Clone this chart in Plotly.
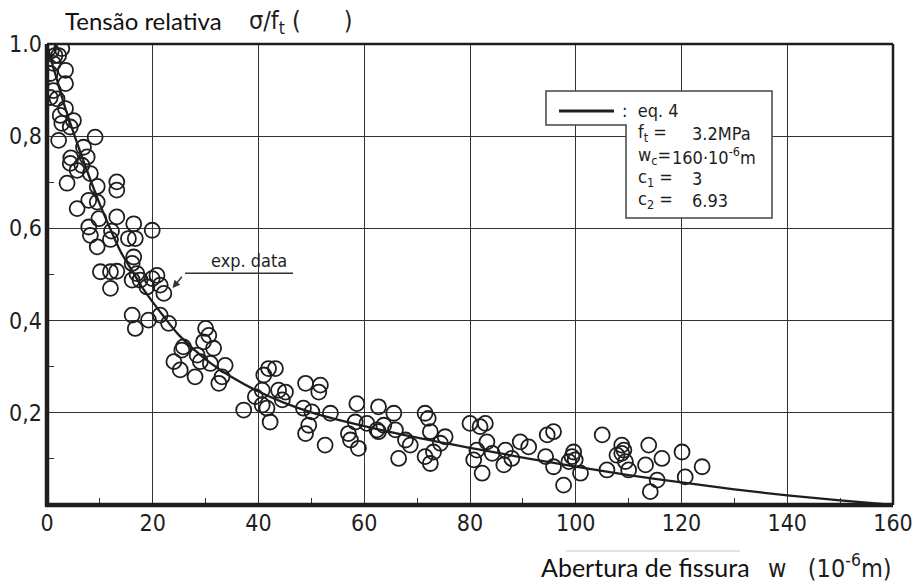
import plotly.graph_objects as go

# ---- data ----
w_exp = [0.3, 0.8, 1.5, 2.8, 2.2, 1.2, 3.5, 0.6, 3.5, 1.2, 0.6, 1.9, 3.5, 2.5, 5.0, 2.8, 4.4, 2.2, 9.1, 6.9,
         4.5, 4.4, 6.6, 7.6, 3.8, 5.7, 8.2, 9.5, 13.2, 13.2, 7.9, 5.7, 9.5, 9.8, 13.2, 7.9, 8.2, 12.2, 12.0, 16.4,
         15.4, 16.7, 19.9, 9.5, 16.4, 16.1, 10.1, 12.0, 13.2, 12.0, 16.1, 17.6, 19.9, 20.8, 18.9, 21.4, 22.1, 17.0,
         16.1, 16.7, 19.2, 21.4, 23.0, 30.0, 30.6, 29.6, 31.5, 24.0, 25.5, 25.2, 28.0, 29.0, 30.9, 33.7, 32.5, 33.1,
         25.8, 28.4,
         37.2, 39.4, 41.0, 41.9, 43.2, 40.7, 41.6, 42.2, 43.8, 45.1, 44.5, 48.9, 48.5, 50.1, 49.5, 48.9, 51.7, 51.4,
         53.6, 52.6, 58.6, 58.3, 57.0, 57.4, 58.9, 60.5, 62.7, 62.7, 63.7, 65.6, 65.9, 66.5, 67.8, 68.7, 71.5, 72.1,
         72.5, 71.5, 72.5, 73.1, 74.4, 75.3, 40.7, 62.4,
         80.0, 81.9, 82.9, 83.2, 80.7, 81.3, 82.3, 84.2, 86.4, 86.7, 87.9, 89.5, 91.1, 94.6, 95.8, 94.3, 95.8, 97.7,
         98.7, 99.3, 99.6, 99.9, 100.9, 105.0, 105.9, 107.8, 108.7, 109.1, 108.7, 109.4, 110.0, 113.2, 113.8, 114.1,
         115.4, 116.3, 120.1, 120.7, 123.9]
s_exp = [0.99, 0.985, 0.975, 0.99, 0.975, 0.958, 0.943, 0.936, 0.914, 0.899, 0.884, 0.881, 0.860, 0.845, 0.834, 0.828, 0.820, 0.791, 0.798, 0.776,
         0.753, 0.741, 0.737, 0.755, 0.698, 0.726, 0.719, 0.691, 0.701, 0.683, 0.661, 0.643, 0.657, 0.621, 0.625, 0.603, 0.585, 0.594, 0.576, 0.610,
         0.578, 0.578, 0.596, 0.560, 0.538, 0.524, 0.506, 0.506, 0.507, 0.470, 0.488, 0.488, 0.491, 0.498, 0.473, 0.477, 0.459, 0.502,
         0.412, 0.383, 0.401, 0.412, 0.394, 0.383, 0.368, 0.354, 0.340, 0.311, 0.336, 0.293, 0.278, 0.311, 0.307, 0.303, 0.264, 0.278,
         0.343, 0.325,
         0.206, 0.235, 0.282, 0.296, 0.296, 0.217, 0.210, 0.180, 0.249, 0.245, 0.228, 0.264, 0.210, 0.202, 0.173, 0.155, 0.260, 0.245,
         0.199, 0.130, 0.220, 0.180, 0.155, 0.141, 0.123, 0.177, 0.213, 0.159, 0.173, 0.199, 0.163, 0.101, 0.141, 0.130, 0.199, 0.188,
         0.159, 0.105, 0.090, 0.115, 0.134, 0.148, 0.249, 0.163,
         0.177, 0.170, 0.177, 0.137, 0.098, 0.119, 0.069, 0.112, 0.087, 0.119, 0.101, 0.137, 0.126, 0.152, 0.159, 0.105, 0.083, 0.043,
         0.094, 0.105, 0.115, 0.098, 0.069, 0.152, 0.076, 0.108, 0.130, 0.119, 0.112, 0.094, 0.076, 0.087, 0.130, 0.029,
         0.054, 0.101, 0.115, 0.061, 0.083]

w_curve = [0, 1, 2, 3, 4, 6, 8, 10, 12, 14, 16, 18, 20, 22, 25, 30, 35, 40, 45, 50, 60, 70, 80, 90, 100, 110, 120, 130, 140, 150, 160]
s_curve = [1.0, 0.957, 0.918, 0.878, 0.842, 0.775, 0.712, 0.652, 0.598, 0.548, 0.510, 0.472, 0.440, 0.410, 0.368, 0.316, 0.277, 0.246, 0.221, 0.201,
           0.171, 0.146, 0.124, 0.103, 0.083, 0.065, 0.049, 0.034, 0.021, 0.010, 0.0]

x_ticks = [0, 20, 40, 60, 80, 100, 120, 140, 160]
x_ticktext = ["0", "20", "40", "60", "80", "100", "120", "140", "160"]
y_ticks = [0.2, 0.4, 0.6, 0.8, 1.0]
y_ticktext = ["0,2", "0,4", "0,6", "0,8", "1.0"]

DIN = "Liberation Sans Narrow, DejaVu Sans Condensed, Arial Narrow, sans-serif"
HUM = "Lato, Noto Sans, sans-serif"
INK = "#1e1e1e"

fig = go.Figure()
fig.add_trace(go.Scatter(x=w_exp, y=s_exp, mode="markers",
                         marker=dict(symbol="circle-open", size=15, color=INK, line=dict(width=1.8, color=INK)),
                         showlegend=False, hoverinfo="skip"))
fig.add_trace(go.Scatter(x=w_curve, y=s_curve, mode="lines",
                         line=dict(color=INK, width=2.3, shape="spline", smoothing=0.8),
                         showlegend=False, hoverinfo="skip"))

W, H = 917, 582
L, R, T, B = 47, 893, 44, 505
def px(xp):
    return (xp - L) / (R - L)
def py(yp):
    return (B - yp) / (B - T)

shapes = []
# frame
shapes.append(dict(type="line", xref="paper", yref="paper", x0=0, x1=0, y0=-0.004, y1=1.0, line=dict(color=INK, width=4.5)))
shapes.append(dict(type="line", xref="paper", yref="paper", x0=-0.002, x1=1.0, y0=0, y1=0, line=dict(color=INK, width=4.5)))
shapes.append(dict(type="line", xref="paper", yref="paper", x0=0, x1=1.0, y0=1, y1=1, line=dict(color=INK, width=2.5)))
shapes.append(dict(type="line", xref="paper", yref="paper", x0=1, x1=1, y0=0, y1=1.0, line=dict(color=INK, width=2.5)))
# legend box (L-shaped)
pts = [(546, 91), (772, 91), (772, 218), (626, 218), (626, 125), (546, 125)]
path = "M " + " L ".join(f"{px(a):.4f},{py(b):.4f}" for a, b in pts) + " Z"
shapes.append(dict(type="path", xref="paper", yref="paper", path=path,
                   fillcolor="white", line=dict(color="#444", width=1.5), layer="above"))
# legend line sample
shapes.append(dict(type="line", xref="paper", yref="paper", x0=px(559), x1=px(614), y0=py(111), y1=py(111),
                   line=dict(color=INK, width=3.2), layer="above"))
# exp. data underline + leader
shapes.append(dict(type="line", xref="paper", yref="paper", x0=px(185), x1=px(293), y0=py(273.3), y1=py(273.3),
                   line=dict(color="#333", width=1.5), layer="above"))
# faint line above axis title
shapes.append(dict(type="line", xref="paper", yref="paper", x0=px(566), x1=px(740), y0=py(551), y1=py(551),
                   line=dict(color="#c8c8c8", width=1.2)))

ann = []
ann.append(dict(text="Tensão relativa", x=px(63), y=py(20), xref="paper", yref="paper", xanchor="left", yanchor="middle",
                showarrow=False, font=dict(family=HUM, size=24, color="#111")))
ann.append(dict(text="σ/f<sub>t</sub> (\u00a0\u00a0\u00a0\u00a0\u00a0\u00a0)", x=px(247), y=py(22), xref="paper", yref="paper",
                xanchor="left", yanchor="middle", showarrow=False, font=dict(family=DIN, size=25, color=INK)))
ann.append(dict(text="Abertura de fissura", x=px(539), y=py(567), xref="paper", yref="paper", xanchor="left",
                yanchor="middle", showarrow=False, font=dict(family=HUM, size=25, color="#111")))
ann.append(dict(text="w\u00a0\u00a0\u00a0(10<sup>-6</sup>m)", x=px(766), y=py(566), xref="paper", yref="paper",
                xanchor="left", yanchor="middle", showarrow=False, font=dict(family=DIN, size=25, color=INK)))
# legend texts
LF = dict(family=DIN, size=18, color=INK)
ann.append(dict(text=":\u00a0 eq. 4", x=px(620), y=py(110), xref="paper", yref="paper", xanchor="left", yanchor="middle",
                showarrow=False, font=LF))
rows = [("f<sub>t</sub> =", "3.2MPa", 133, 690), ("w<sub>c</sub>=", "160·10<sup>-6</sup>m", 156, 670),
        ("c<sub>1</sub> =", "3", 178, 690), ("c<sub>2</sub> =", "6.93", 200, 690)]
for lab, val, yy, xv in rows:
    ann.append(dict(text=lab, x=px(636), y=py(yy), xref="paper", yref="paper", xanchor="left", yanchor="middle",
                    showarrow=False, font=LF))
    ann.append(dict(text=val, x=px(xv), y=py(yy), xref="paper", yref="paper",
                    xanchor="left", yanchor="middle", showarrow=False, font=LF))
# exp. data label and arrow
ann.append(dict(text="exp. data", x=px(209), y=py(260), xref="paper", yref="paper", xanchor="left", yanchor="middle",
                showarrow=False, font=dict(family=DIN, size=18, color=INK)))
ann.append(dict(text=" ", x=px(172.5), y=py(288), xref="paper", yref="paper", showarrow=True,
                ax=12.5, ay=-14.7, arrowhead=2, arrowsize=1.0, arrowwidth=1.5, arrowcolor="#333",
                font=dict(size=10)))

fig.update_layout(
    width=W, height=H,
    margin=dict(l=L, r=W - R, t=T, b=H - B, pad=0, autoexpand=False),
    paper_bgcolor="white", plot_bgcolor="white",
    shapes=shapes, annotations=ann, showlegend=False,
    xaxis=dict(range=[0, 160], tickvals=x_ticks, ticktext=x_ticktext, showgrid=True, gridcolor="#333",
               gridwidth=1.3, zeroline=False, showline=False, ticks="", ticklabelstandoff=2, automargin=False,
               tickfont=dict(family=DIN, size=23, color=INK),
               minor=dict(dtick=10, tick0=0, ticks="inside", ticklen=7, tickwidth=1.3, tickcolor="#333", showgrid=False)),
    yaxis=dict(range=[0, 1.0], tickvals=y_ticks, ticktext=y_ticktext, showgrid=True, gridcolor="#333",
               gridwidth=1.3, zeroline=False, showline=False, ticks="", ticklabelstandoff=4, automargin=False,
               tickfont=dict(family=DIN, size=23, color=INK),
               minor=dict(dtick=0.1, tick0=0, ticks="inside", ticklen=7, tickwidth=1.3, tickcolor="#333", showgrid=False)),
)

fig.write_html("out.html")
